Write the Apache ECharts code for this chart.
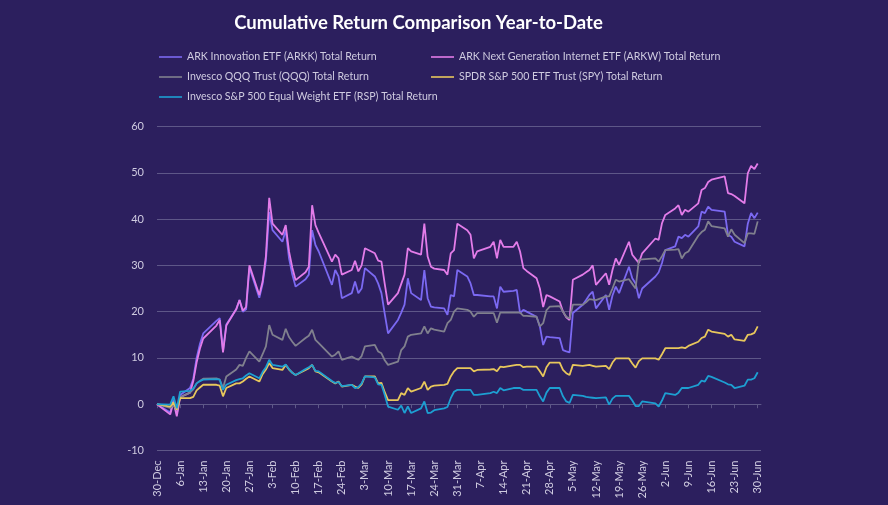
<!DOCTYPE html>
<html><head><meta charset="utf-8">
<script src="https://cdn.jsdelivr.net/npm/echarts@6/dist/echarts.min.js"></script>
<style>html,body{margin:0;padding:0;background:#2c1f5e;}#c{width:888px;height:505px;}</style>
</head><body><div id="c"></div>
<script>
const titleText = 'Cumulative Return Comparison Year-to-Date';
const seriesNames = [
  'ARK Innovation ETF (ARKK) Total Return',
  'ARK Next Generation Internet ETF (ARKW) Total Return',
  'Invesco QQQ Trust (QQQ) Total Return',
  'SPDR S&P 500 ETF Trust (SPY) Total Return',
  'Invesco S&P 500 Equal Weight ETF (RSP) Total Return'
];
const yTicks = [-10, 0, 10, 20, 30, 40, 50, 60];
const tradeDates = [
 '30-Dec',
 '3-Jan','4-Jan','5-Jan','6-Jan',
 '9-Jan','10-Jan','11-Jan','12-Jan','13-Jan',
 '17-Jan','18-Jan','19-Jan','20-Jan',
 '23-Jan','24-Jan','25-Jan','26-Jan','27-Jan',
 '30-Jan','31-Jan','1-Feb','2-Feb','3-Feb',
 '6-Feb','7-Feb','8-Feb','9-Feb','10-Feb',
 '13-Feb','14-Feb','15-Feb','16-Feb','17-Feb',
 '21-Feb','22-Feb','23-Feb','24-Feb',
 '27-Feb','28-Feb','1-Mar','2-Mar','3-Mar',
 '6-Mar','7-Mar','8-Mar','9-Mar','10-Mar',
 '13-Mar','14-Mar','15-Mar','16-Mar','17-Mar',
 '20-Mar','21-Mar','22-Mar','23-Mar','24-Mar',
 '27-Mar','28-Mar','29-Mar','30-Mar','31-Mar',
 '3-Apr','4-Apr','5-Apr','6-Apr',
 '10-Apr','11-Apr','12-Apr','13-Apr','14-Apr',
 '17-Apr','18-Apr','19-Apr','20-Apr','21-Apr',
 '24-Apr','25-Apr','26-Apr','27-Apr','28-Apr',
 '1-May','2-May','3-May','4-May','5-May',
 '8-May','9-May','10-May','11-May','12-May',
 '15-May','16-May','17-May','18-May','19-May',
 '22-May','23-May','24-May','25-May','26-May',
 '30-May','31-May','1-Jun','2-Jun',
 '5-Jun','6-Jun','7-Jun','8-Jun','9-Jun',
 '12-Jun','13-Jun','14-Jun','15-Jun','16-Jun',
 '20-Jun','21-Jun','22-Jun','23-Jun',
 '26-Jun','27-Jun','28-Jun','29-Jun','30-Jun'
];
const arkk = [
 0,
 -1.8,1.0,-2.2,2.0,
 3.5,5.5,10,13,15.3,
 18,18.6,11.5,17.2,
 20.5,22.5,20,20.5,29.5,
 23,26,31,41.5,37.6,
 35.1,37.6,31.5,28,25.4,
 27,28,37.6,34.4,33,
 25.8,29,27.6,22.9,
 24,26.5,24,25,29.4,
 27.6,26.1,24,19.5,15.3,
 18.2,19.8,21.5,27.2,24,
 22.5,29,22.9,21.1,20.9,
 20.7,19.3,23.6,23.3,29,
 27.6,26.1,23.6,23.6,
 23.3,23.3,20.7,25.4,24.3,
 24.5,24.7,19.7,20.4,20,
 18.9,16.8,12.8,14.6,14.5,
 14.3,11.7,11.4,11.2,19.7,
 21.5,22.5,23.6,24.3,20.7,
 23.6,20.4,23.5,25.4,24,
 29.7,27.2,26.1,22.9,25,
 27.6,28.5,30.5,33.3,
 34.1,36.2,35.9,36.6,36.2,
 38.4,41.6,41.3,42.7,42,
 41.6,36.6,36.2,35.1,
 34.1,39,41.3,40.2,41.4
];
const arkw = [
 0,
 -2.2,0.5,-2.6,1.5,
 2.5,5,9,12,14.2,
 17,18.2,11.2,17,
 20.5,22.5,20.2,21,30,
 23.6,26.5,32,44.6,39,
 36.6,38.7,33,29.5,26.8,
 28.5,29.7,43,38.7,37,
 30.8,32.3,31.5,28,
 29,31,28.7,30,33.7,
 32.6,31,30.8,26,21.5,
 24,26,28,33.7,33,
 32.3,39,31.9,29.7,29.3,
 29,28,32.6,33.3,39,
 37.6,36.6,31.5,33,
 34,35.1,31.5,35.5,34,
 34,35.1,33,29.4,28.8,
 27.2,25,21,23.6,23.3,
 22.2,20,18.8,18.2,26.9,
 28,28.5,29,30,25.8,
 28.3,25.8,29,31.5,30.1,
 35.1,32.3,31.4,30.5,32.6,
 35.8,35.5,39.1,40.9,
 42.3,43,40.9,42,41.6,
 43.4,46.3,46.7,48,48.5,
 49.2,45.6,45.4,45,
 43.4,49.9,51.5,50.8,52
];
const qqq = [
 0,
 -0.8,-0.3,-1.2,1.5,
 2.5,3.2,4.5,5,5.5,
 5.6,5.3,3.5,6,
 7.5,8.5,8.3,10,11.4,
 9.2,10.8,12.5,17.1,15,
 13.9,16.3,14.5,13.5,12.6,
 14.3,14.8,16.1,13.9,13.2,
 10.3,10.7,11.4,9.6,
 10.3,9.9,9.6,10.4,12.5,
 12.8,11.4,11,9.5,8.5,
 9.2,11.7,12.5,14.6,15,
 15.3,16.8,15.3,16.4,16.1,
 15.7,17.5,18.2,20,20.7,
 20.4,20,18.9,19.7,
 19.7,19.7,17.6,19.8,19.8,
 19.8,19.8,19.8,19.1,19.1,
 18.9,16.8,17.5,20.3,21.1,
 21.2,20,18.9,18.5,21.5,
 21.5,22,22.7,22.6,22.5,
 23.3,23.3,25,26.9,26.5,
 27,26,25,31.2,31.3,
 31.5,30.8,32,33.3,
 33.4,33.5,31.5,32.6,33,
 36.4,37.2,37.7,39.5,38.5,
 38,36.2,37.8,36.6,
 34.8,36.9,36.9,36.8,39.5
];
const spy = [
 0,
 -0.5,0.4,-1.2,1.3,
 1.3,1.6,3.0,3.6,4.2,
 4.2,4.0,1.7,3.5,
 4.5,4.5,4.9,5.5,6.0,
 4.9,6.5,7.5,8.9,7.8,
 7.4,8.5,7.5,6.8,6.3,
 7.4,7.8,8.5,7.1,6.9,
 4.9,4.5,4.9,3.8,
 4.2,3.8,3.5,4.3,6.0,
 6.0,4.5,4.6,2.6,0.9,
 0.9,2.4,2.0,3.5,2.7,
 3.5,4.9,3.1,3.8,4.0,
 4.2,4.4,6.0,7.1,7.8,
 7.8,7.8,7.1,7.4,
 7.5,7.6,7.1,8.1,8.0,
 8.4,8.5,8.5,8.0,8.1,
 8.1,7.1,6.0,8.0,9.0,
 9.0,7.4,6.7,6.3,8.5,
 8.3,8.4,8.5,8.3,8.1,
 8.3,7.6,9.0,9.9,9.9,
 9.9,8.8,7.9,9.3,9.9,
 9.9,9.6,10.8,12.1,
 12.1,12.1,12.3,12.1,12.6,
 13.5,14.3,14.6,16.1,15.7,
 15.2,14.6,15,14,
 13.7,15,15.1,15.4,16.8
];
const rsp = [
 0,
 -0.1,1.7,-0.9,2.7,
 2.9,3.4,4.5,5.0,5.3,
 5.4,5.3,3.1,4.2,
 5.2,5.4,5.6,6.2,6.7,
 5.6,7.0,8.0,9.6,8.5,
 8.1,8.6,7.6,6.8,6.3,
 7.6,8.0,8.5,7.2,7.1,
 5.0,4.6,4.8,3.9,
 4.2,3.5,3.7,4.5,6.0,
 5.8,4.3,4.2,2.0,-0.5,
 -1.2,-0.3,-1.9,-0.5,-1.9,
 -0.9,0.6,-1.9,-1.8,-1.3,
 -0.9,-0.6,1.3,2.7,3.1,
 3.1,3.1,2.0,2.0,
 2.4,2.7,2.4,3.5,3.0,
 3.5,3.5,3.5,3.1,3.1,
 3.1,1.7,0.6,2.5,3.5,
 3.5,1.7,0.6,0.3,2.0,
 1.8,1.6,1.5,1.4,1.3,
 1.5,-0.1,1.2,1.8,1.8,
 1.8,0.8,-0.4,-0.4,0.6,
 0.2,-0.5,0.8,2.4,
 2.0,2.5,3.5,3.5,3.5,
 4.2,5.1,4.9,6.1,5.9,
 4.7,4.3,4.2,3.5,
 4.0,5.3,5.3,5.6,6.9
];
const colors = ['#7b69f2', '#e37ce9', '#80808e', '#e8c75c', '#1d9fd2'];

// calendar-day category axis, 30-Dec-2022 .. 1-Jul-2023
const MONTHS = ['Jan','Feb','Mar','Apr','May','Jun','Jul','Aug','Sep','Oct','Nov','Dec'];
const calendarDays = [];
for (let t = Date.UTC(2022, 11, 30); t <= Date.UTC(2023, 6, 1); t += 86400000) {
  const d = new Date(t);
  calendarDays.push(d.getUTCDate() + '-' + MONTHS[d.getUTCMonth()]);
}
const idx = {};
calendarDays.forEach((c, i) => { idx[c] = i; });
const allValues = [arkk, arkw, qqq, spy, rsp];

const FONT = 'Lato';
const labelColor = '#cfcbe0';
const gridColor = '#5e5788';

const legendText = { color: labelColor, fontSize: 10.6, lineHeight: 20, fontFamily: FONT };
const chart = echarts.init(document.getElementById('c'), null, { renderer: 'canvas' });
chart.setOption({
  backgroundColor: '#2c1f5e',
  animation: false,
  textStyle: { fontFamily: FONT },
  title: {
    text: titleText, left: 413.5, top: 9, textAlign: 'center',
    textStyle: { color: '#ffffff', fontSize: 18.5, fontWeight: 'bold', fontFamily: FONT }
  },
  legend: [
    {
      data: [seriesNames[0], seriesNames[2], seriesNames[4]],
      orient: 'vertical', left: 159, top: 47, padding: 0, icon: 'rect', itemWidth: 23, itemHeight: 1.6, itemGap: 0,
      textStyle: legendText
    },
    {
      data: [seriesNames[1], seriesNames[3]],
      orient: 'vertical', left: 431, top: 47, padding: 0, icon: 'rect', itemWidth: 23, itemHeight: 1.6, itemGap: 0,
      textStyle: legendText
    }
  ],
  grid: { left: 157, top: 126.5, width: 604, height: 324, containLabel: false },
  xAxis: [
    {
      type: 'category', data: calendarDays, boundaryGap: false, position: 'bottom',
      axisLine: { show: false, onZero: false }, axisTick: { show: false },
      axisLabel: { interval: 6, rotate: 90, color: labelColor, fontSize: 11, margin: 10, fontFamily: FONT },
      splitLine: { show: false }
    },
    {
      type: 'category', data: calendarDays, boundaryGap: false, position: 'top',
      axisLine: { show: true, onZero: true, lineStyle: { color: gridColor, width: 1 } },
      axisTick: { show: true, interval: 6, inside: true, length: 4, lineStyle: { color: gridColor } },
      axisLabel: { show: false }, splitLine: { show: false }
    }
  ],
  yAxis: {
    type: 'value', min: yTicks[0], max: yTicks[yTicks.length - 1], interval: 10,
    axisLine: { show: false }, axisTick: { show: false },
    axisLabel: { color: labelColor, fontSize: 11, margin: 13, fontFamily: FONT },
    splitLine: { lineStyle: { color: gridColor, width: 1 } }
  },
  series: seriesNames.map((name, s) => ({
    name, type: 'line', xAxisIndex: 0, symbol: 'none', showSymbol: false,
    color: colors[s],
    lineStyle: { width: 1.8, color: colors[s] },
    data: tradeDates.map((d, i) => [idx[d], allValues[s][i]])
  }))
});
</script></body></html>
